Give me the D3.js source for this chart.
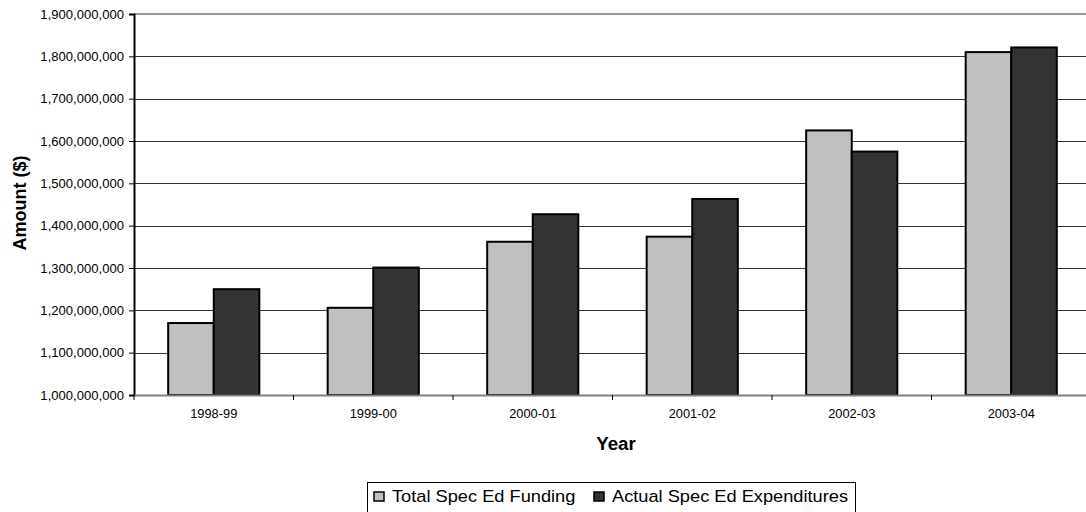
<!DOCTYPE html>
<html><head><meta charset="utf-8">
<script src="https://cdn.jsdelivr.net/npm/d3@7"></script>
<style>body{margin:0;background:#fff;overflow:hidden;} svg{display:block;font-family:Arial,"Liberation Sans",sans-serif;}</style>
</head><body>
<script>
const years = ["1998-99","1999-00","2000-01","2001-02","2002-03","2003-04"];
const seriesNames = ["Total Spec Ed Funding","Actual Spec Ed Expenditures"];
const funding = [1170000000,1206000000,1362000000,1374000000,1625000000,1810000000];
const expenditures = [1250000000,1301000000,1427000000,1463000000,1575000000,1821000000];
const yTicks = [1000000000,1100000000,1200000000,1300000000,1400000000,1500000000,1600000000,1700000000,1800000000,1900000000];
const colors = ["#c0c0c0","#333333"];

(function(){
const W=1086,H=512;
const pLeft=134, pTop=14, pBottom=395, plotW=957;
const svg=d3.select("body").append("svg").attr("width",W).attr("height",H);

const x=d3.scaleBand().domain(years).range([pLeft,pLeft+plotW]).paddingInner(0).paddingOuter(0);
const y=d3.scaleLinear().domain([1000000000,1900000000]).range([pBottom,pTop]);
const xs=d3.scaleBand().domain([0,1]).range([0,x.bandwidth()]).paddingInner(0).paddingOuter(0.75);

// gridlines
svg.append("g").selectAll("line").data(yTicks.slice(1,-1)).join("line")
  .attr("x1",pLeft).attr("x2",pLeft+plotW).attr("y1",d=>Math.round(y(d))+0.5).attr("y2",d=>Math.round(y(d))+0.5)
  .attr("stroke","#333").attr("stroke-width",1);
// top border
svg.append("line").attr("x1",pLeft).attr("x2",pLeft+plotW).attr("y1",y(1900000000)).attr("y2",y(1900000000))
  .attr("stroke","#999").attr("stroke-width",2);

// bars
const data=years.map((yr,i)=>({yr,vals:[funding[i],expenditures[i]]}));
const g=svg.append("g");
data.forEach(d=>{
  d.vals.forEach((v,j)=>{
    g.append("rect").attr("x",x(d.yr)+xs(j)).attr("width",xs.bandwidth())
      .attr("y",y(v)).attr("height",y(1000000000)-y(v))
      .attr("fill",colors[j]).attr("stroke","#000").attr("stroke-width",2);
  });
});

// y axis
const yAxis=d3.axisLeft(y).tickValues(yTicks).tickSize(5).tickFormat(d3.format(","));
const ya=svg.append("g").attr("transform",`translate(${pLeft},0)`).call(yAxis);
ya.select(".domain").attr("stroke","#000").attr("stroke-width",2);
ya.selectAll(".tick line").attr("stroke","#000");
ya.selectAll("text").attr("font-size","12px").attr("fill","#000")
  .attr("x",0).attr("dy","0.35em").attr("transform","translate(-10,0) scale(1.09,1)");

// x axis
const xa=svg.append("g").attr("transform",`translate(0,${pBottom})`)
  .call(d3.axisBottom(x).tickSize(0).tickSizeOuter(0));
xa.select(".domain").attr("stroke","#808080").attr("stroke-width",2);
xa.selectAll("text").attr("font-size","12px").attr("fill","#000")
  .attr("y",0).attr("dy",0).attr("transform","translate(0,23) scale(1.07,1)");
svg.append("g").selectAll("line").data(years).join("line")
  .attr("x1",d=>x(d)).attr("x2",d=>x(d)).attr("y1",pBottom).attr("y2",pBottom+5).attr("stroke","#000");

// titles
svg.append("text").attr("transform","translate(616,450) scale(1.04,1)").attr("text-anchor","middle")
  .attr("font-size","18px").attr("font-weight","bold").text("Year");
svg.append("text").attr("transform","translate(26,203) rotate(-90)").attr("text-anchor","middle")
  .attr("font-size","18px").attr("font-weight","bold").text("Amount ($)");

// legend
const lg=svg.append("g");
lg.append("rect").attr("x",367.5).attr("y",482.5).attr("width",488).attr("height",40)
  .attr("fill","#fff").attr("stroke","#000").attr("stroke-width",1);
const lx=[374,594];
seriesNames.forEach((n,i)=>{
  lg.append("rect").attr("x",lx[i]).attr("y",492).attr("width",10).attr("height",9)
    .attr("fill",colors[i]).attr("stroke","#000").attr("stroke-width",1.5);
  lg.append("text").attr("transform",`translate(${lx[i]+18},502) scale(1.14,1)`)
    .attr("font-size","16px").text(n);
});
})();
</script>
</body></html>
